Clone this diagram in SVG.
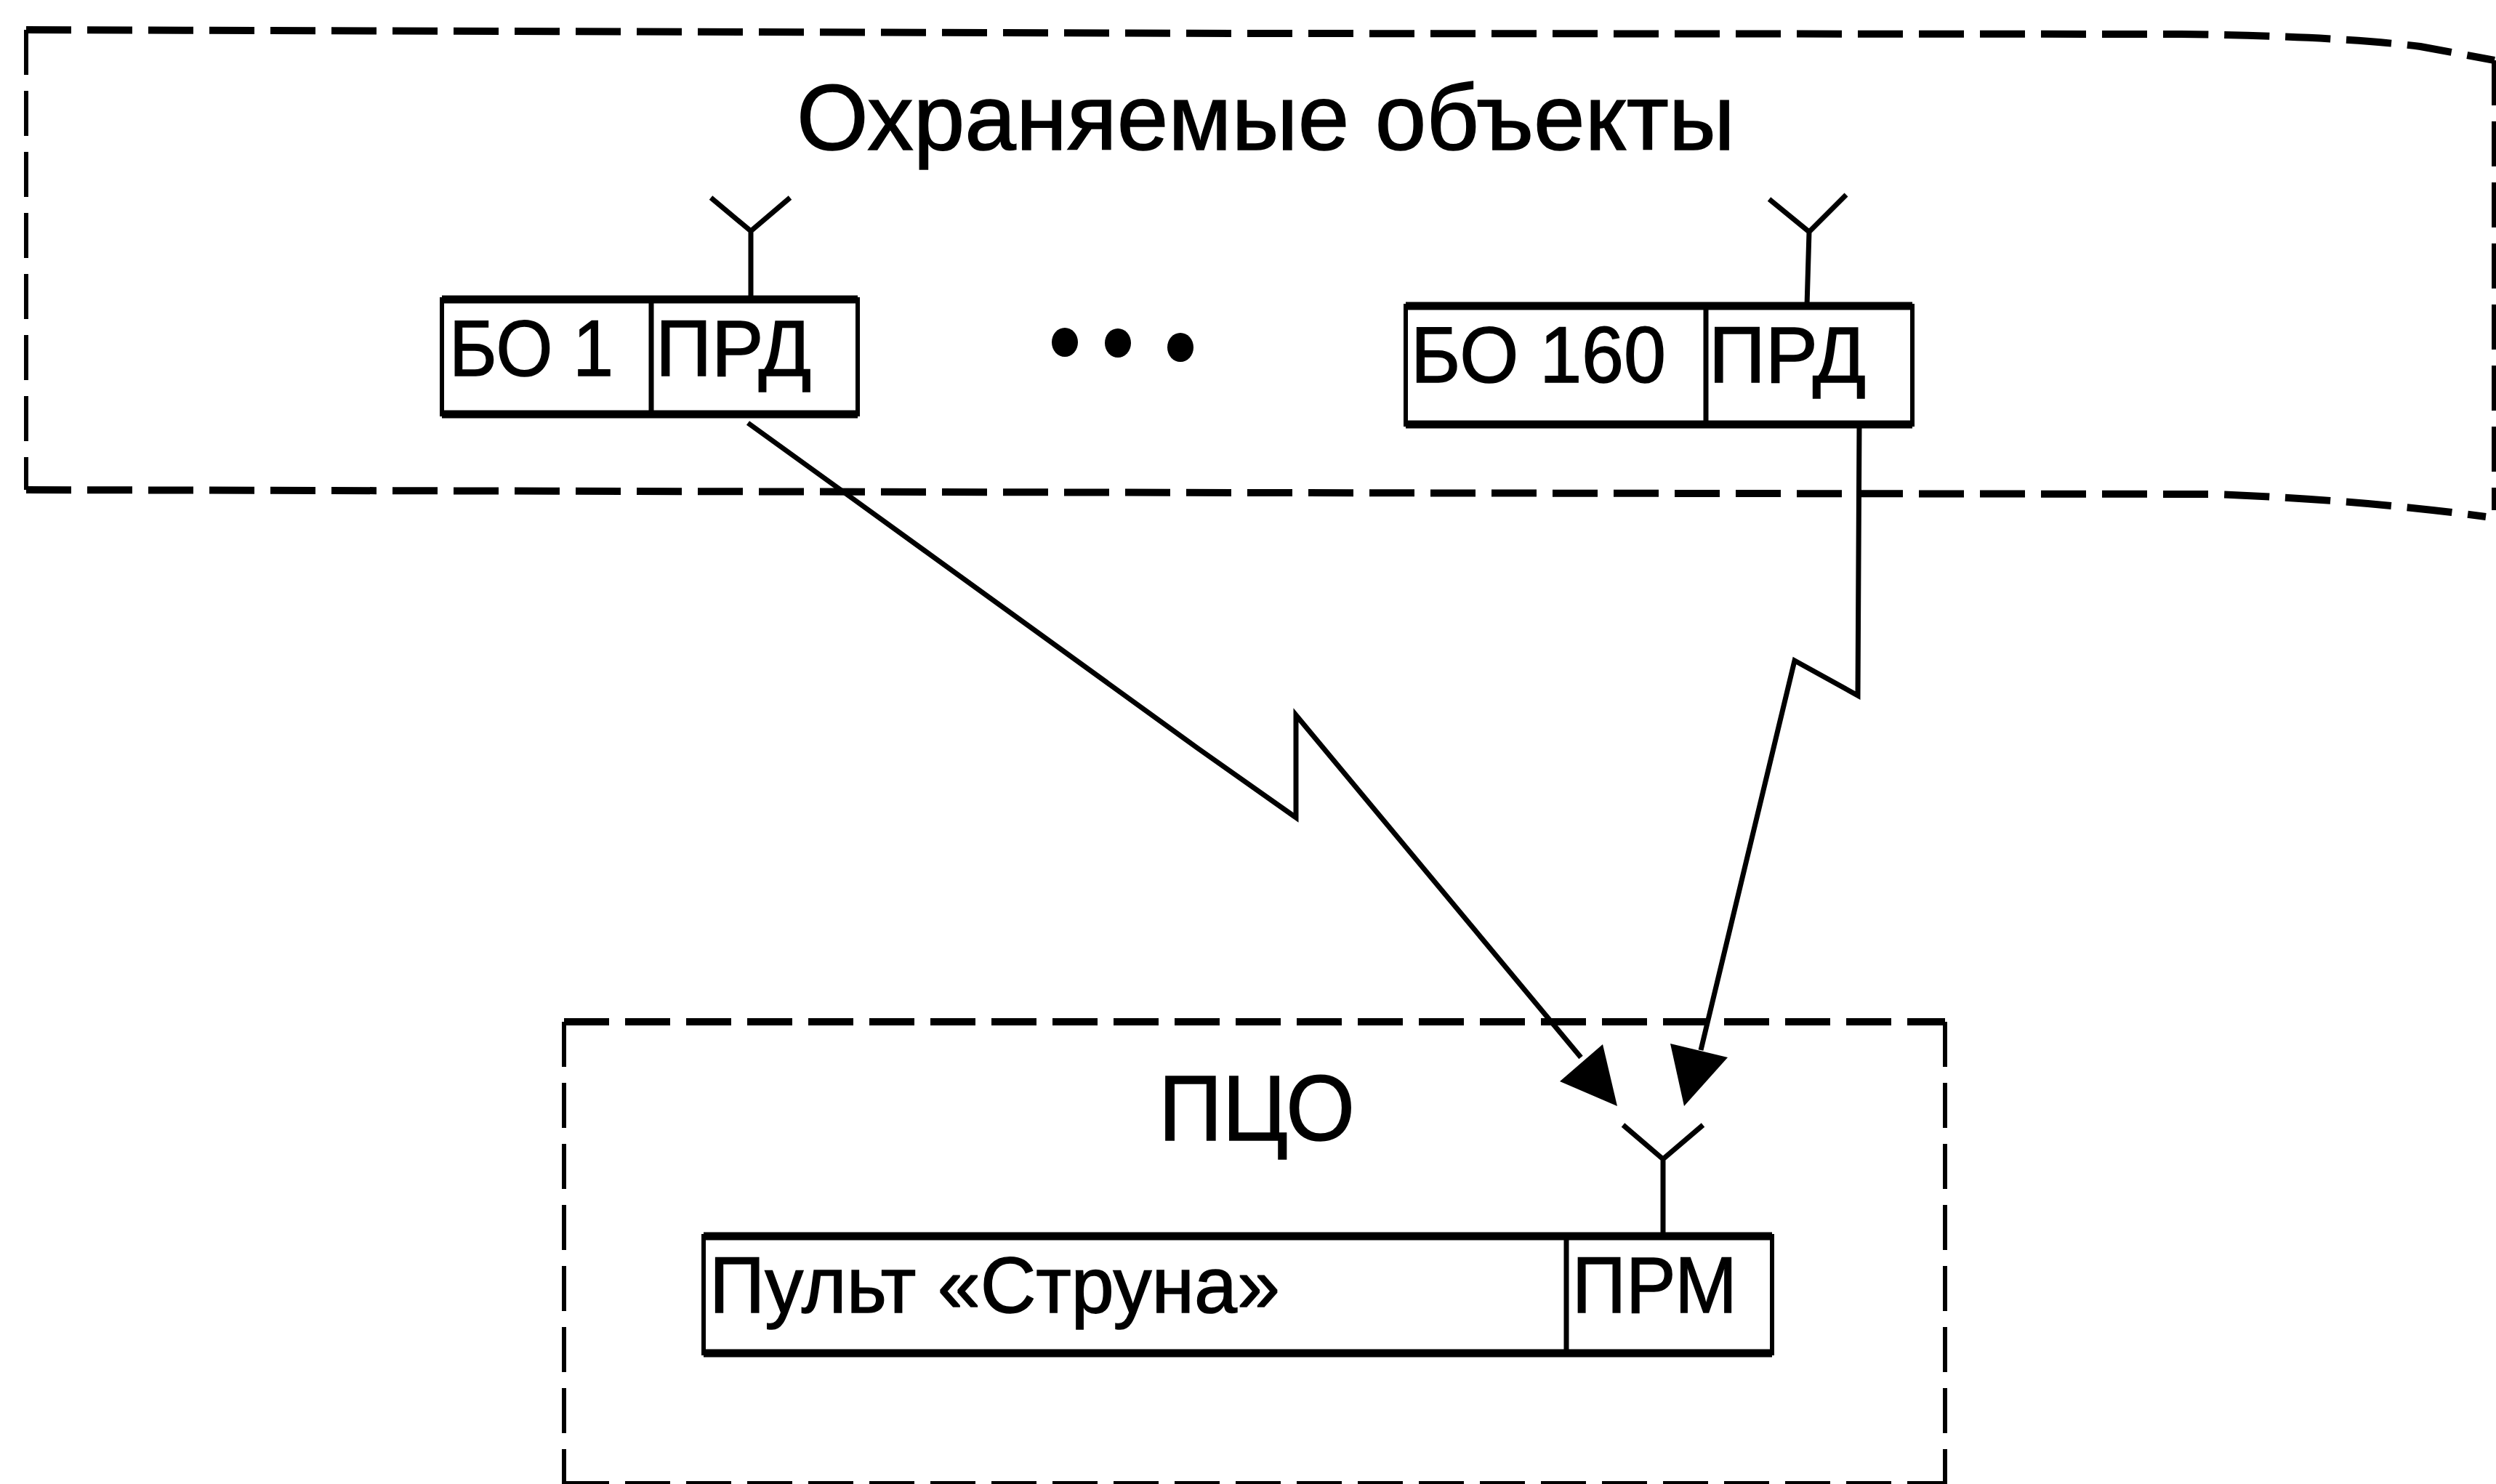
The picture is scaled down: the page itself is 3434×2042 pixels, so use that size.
<svg xmlns="http://www.w3.org/2000/svg" width="3434" height="2042" viewBox="0 0 3434 2042">
<style>
text{font-family:"Liberation Sans",Arial,sans-serif;fill:#000;stroke:#000;stroke-width:1.5}
.t{font-size:128px}.l{font-size:110px}
.f{fill:none;stroke:#000;stroke-width:7}
.b{fill:#fff;stroke:#000;stroke-width:6}
.h{fill:none;stroke:#000;stroke-width:11}
.d{fill:none;stroke:#000;stroke-width:10;stroke-dasharray:62 22}
.v{fill:none;stroke:#000;stroke-width:6;stroke-dasharray:62 22}
.c{fill:none;stroke:#000;stroke-width:7}
.a{fill:#000;stroke:none}
</style>
<rect width="3434" height="2042" fill="#fff"/>
<g id="zone-objects">
<path class="d" d="M36 41L1717 46L3000 47Q3220 50 3330 64L3432 83"/>
<path class="d" d="M36 674L1717 678L3050 680Q3250 688 3420 711"/>
<path class="v" d="M36 41V674"/>
<path class="v" d="M3431 83V702"/>
<text class="t" x="1096" y="206" textLength="1291" lengthAdjust="spacingAndGlyphs">Охраняемые объекты</text>
</g>
<g id="zone-pco">
<path class="d" d="M776 1406H2676"/>
<path class="v" d="M776 1406V2042M2676 1406V2042"/>
<path class="v" d="M776 2041H2676"/>
<text class="t" x="1594" y="1569" textLength="270" lengthAdjust="spacingAndGlyphs">ПЦО</text>
</g>
<g id="node-bo1">
<rect class="b" x="608" y="412" width="572" height="158"/>
<path class="h" d="M608 412H1180M608 570H1180"/>
<path class="f" d="M896 412V570M1033 412V318M978 272L1033 318L1087 272"/>
<text class="l" x="618" y="517" textLength="226" lengthAdjust="spacingAndGlyphs">БО 1</text>
<text class="l" x="902" y="517" textLength="214" lengthAdjust="spacingAndGlyphs">ПРД</text>
</g>
<g id="node-dots">
<ellipse cx="1465" cy="471" rx="18" ry="20"/>
<ellipse cx="1538" cy="472" rx="18" ry="20"/>
<ellipse cx="1624" cy="478" rx="18" ry="20"/>
</g>
<g id="node-bo160">
<rect class="b" x="1934" y="421" width="697" height="163"/>
<path class="h" d="M1934 421H2631M1934 584H2631"/>
<path class="f" d="M2347 421V584M2486 421L2489 319M2434 274L2489 319L2540 268"/>
<text class="l" x="1941" y="526" textLength="351" lengthAdjust="spacingAndGlyphs">БО 160</text>
<text class="l" x="2351" y="526" textLength="216" lengthAdjust="spacingAndGlyphs">ПРД</text>
</g>
<g id="node-pult">
<rect class="b" x="968" y="1701" width="1470" height="161"/>
<path class="h" d="M968 1701H2438M968 1862H2438"/>
<path class="f" d="M2155 1701V1862M2288 1701V1595M2233 1548L2288 1595L2343 1548"/>
<text class="l" x="976" y="1806" textLength="785" lengthAdjust="spacingAndGlyphs">Пульт «Струна»</text>
<text class="l" x="2163" y="1806" textLength="227" lengthAdjust="spacingAndGlyphs">ПРМ</text>
</g>
<g id="connectors">
<path class="c" d="M1029 582L1162 678L1647 1029L1783 1125L1783 984L2175 1455"/>
<path class="a" d="M2225 1522L2205 1437L2146 1488Z"/>
<path class="c" d="M2558 584L2556 957L2469 909L2340 1445"/>
<path class="a" d="M2317 1522L2298 1436L2377 1455Z"/>
</g>
</svg>
